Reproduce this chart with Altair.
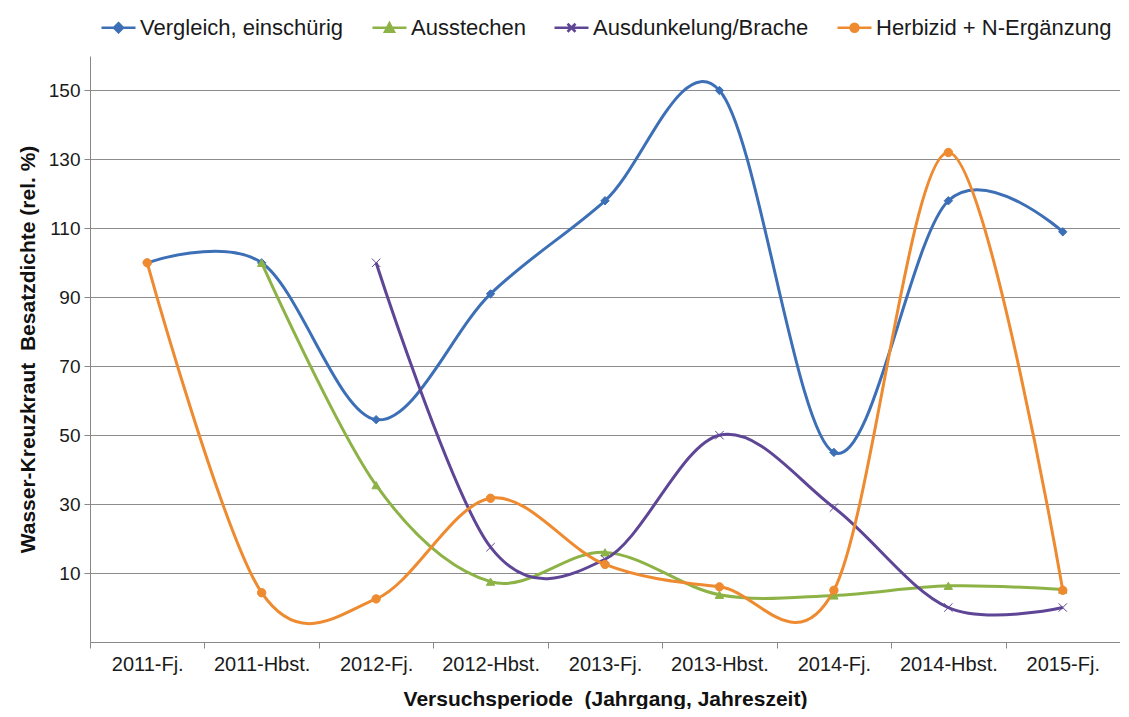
import altair as alt
import pandas as pd

cats = ["2011-Fj.", "2011-Hbst.", "2012-Fj.", "2012-Hbst.", "2013-Fj.",
        "2013-Hbst.", "2014-Fj.", "2014-Hbst.", "2015-Fj."]
series_names = ["Vergleich, einschürig", "Ausstechen", "Ausdunkelung/Brache", "Herbizid + N-Ergänzung"]
vergleich = [100, 100, 54.5, 91, 118, 150, 45, 118, 109]
ausstechen = [None, 100, 35.5, 7.5, 16, 3.7, 3.5, 6.3, 5.2]
ausdunkelung = [None, None, 100, 17.5, 14, 50, 29, 0, 0]
herbizid = [100, 4.3, 2.5, 31.7, 12.5, 6, 5, 132, 5]
colors = ["#3C6FB6", "#8DB347", "#5E4596", "#EE8A30"]

rows = []
for si, (name, vals) in enumerate(zip(series_names, [vergleich, ausstechen, ausdunkelung, herbizid])):
    for c, v in zip(cats, vals):
        if v is not None:
            rows.append({"cat": c, "value": v, "series": name, "order": si})
df = pd.DataFrame(rows)

FONT = "Liberation Sans"

x_enc = alt.X("cat:N", sort=cats, scale=alt.Scale(domain=cats, paddingInner=0, paddingOuter=0),
              axis=alt.Axis(title="Versuchsperiode\u00a0\u00a0(Jahrgang, Jahreszeit)", labelAngle=0,
                            tickBand="extent", tickSize=6, tickColor="#888888",
                            domainColor="#888888", labelFontSize=20, labelColor="#1a1a1a",
                            labelPadding=6, titleFontSize=21, titleFontWeight="bold",
                            titlePadding=14, titleColor="#111111", grid=False))
y_enc = alt.Y("value:Q", scale=alt.Scale(domain=[-10, 160], nice=False, zero=False),
              axis=alt.Axis(title="Wasser-Kreuzkraut\u00a0\u00a0Besatzdichte (rel. %)",
                            values=[10, 30, 50, 70, 90, 110, 130, 150],
                            tickSize=6, tickColor="#888888", domainColor="#888888",
                            gridColor="#8c8c8c", gridWidth=1, labelFontSize=19,
                            labelColor="#1a1a1a", labelPadding=4, titleFontSize=21,
                            titleFontWeight="bold", titlePadding=10, titleColor="#111111"))

lines = alt.Chart(df).mark_line(interpolate="cardinal", tension=0, strokeWidth=3).encode(
    x=x_enc, y=y_enc,
    color=alt.Color("series:N", scale=alt.Scale(domain=series_names, range=colors), legend=None),
    order=alt.Order("order:Q"),
)

plot_shapes = ["diamond", "triangle-up", "M-1,-1L1,1M-1,1L1,-1", "circle"]
points = alt.Chart(df).mark_point(filled=True, size=70, opacity=1, strokeWidth=1).encode(
    x=x_enc, y=y_enc,
    fill=alt.Fill("series:N", scale=alt.Scale(domain=series_names, range=colors), legend=None),
    stroke=alt.Stroke("series:N", scale=alt.Scale(domain=series_names, range=colors), legend=None),
    shape=alt.Shape("series:N", scale=alt.Scale(domain=series_names, range=plot_shapes), legend=None),
)

ln = "M-1.7,0L1.7,0"
legend_shapes = [
    ln + "M0,-0.45L0.45,0L0,0.45L-0.45,0Z",
    ln + "M0,-0.45L0.45,0.4L-0.45,0.4Z",
    ln + "M-0.4,-0.4L0.4,0.4M-0.4,0.4L0.4,-0.4",
    ln + "M-0.4,0A0.4,0.4 0 1,0 0.4,0A0.4,0.4 0 1,0 -0.4,0Z",
]
leg = alt.Legend(title=None, orient="none", legendX=17, legendY=-40, direction="horizontal",
                 labelFont=FONT, labelFontSize=22, labelColor="#1a1a1a", labelLimit=0,
                 symbolSize=400, symbolStrokeWidth=2.5, labelOffset=10, columnPadding=23,
                 padding=0)
legend_layer = alt.Chart(df).transform_filter("false").mark_point(filled=True, opacity=1).encode(
    x=x_enc, y=y_enc,
    fill=alt.Fill("series:N", scale=alt.Scale(domain=series_names, range=colors), legend=leg),
    stroke=alt.Stroke("series:N", scale=alt.Scale(domain=series_names, range=colors), legend=leg),
    shape=alt.Shape("series:N", scale=alt.Scale(domain=series_names, range=legend_shapes), legend=leg),
)

chart = alt.layer(lines, points, legend_layer).resolve_scale(
    shape="independent", fill="independent", stroke="independent"
).resolve_legend(
    shape="independent", fill="independent", stroke="independent"
).properties(
    width=1030, height=586,
    autosize=alt.AutoSizeParams(type="none"),
    padding={"left": 82, "top": 48, "right": 0, "bottom": 67},
).configure(font=FONT).configure_view(stroke=None).configure_axis(labelFont=FONT, titleFont=FONT)

chart.save("out.html", embed_options={"renderer": "svg", "actions": False})
